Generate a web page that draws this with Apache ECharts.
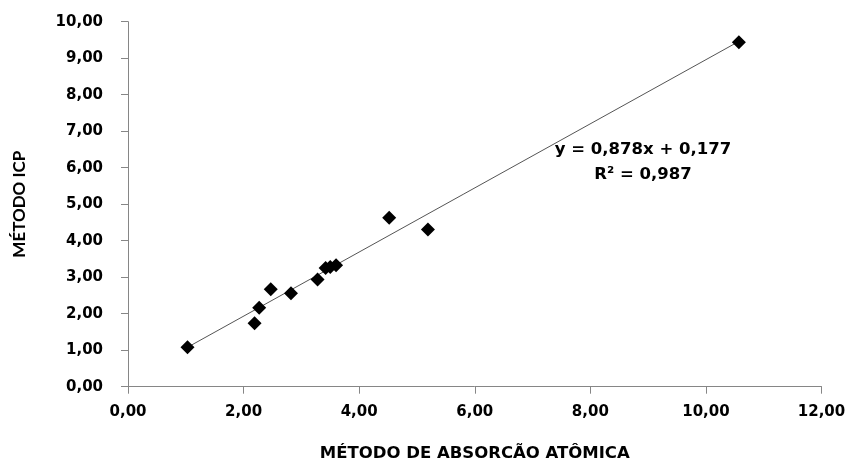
<!DOCTYPE html>
<html><head><meta charset="utf-8">
<script src="https://cdn.jsdelivr.net/npm/echarts@6/dist/echarts.min.js"></script>
<style>html,body{margin:0;padding:0;background:#fff}#c{width:851px;height:469px}</style>
</head><body><div id="c"></div>
<script>
const xValues = [1.03, 2.19, 2.27, 2.47, 2.82, 3.28, 3.42, 3.50, 3.60, 4.52, 5.19, 10.57];
const yValues = [1.08, 1.74, 2.16, 2.67, 2.56, 2.94, 3.25, 3.28, 3.33, 4.63, 4.31, 9.44];
const trendX = [1.03, 10.57];
const trendY = [1.08, 9.46];
const equationText = 'y = 0,878x + 0,177';
const r2Text = 'R² = 0,987';
const xTitle = 'MÉTODO DE ABSORCÃO ATÔMICA';
const yTitle = 'MÉTODO ICP';

const wideFont = '"DejaVu Sans", sans-serif';
const narrowFont = 'Lato, "Open Sans", sans-serif';
const fmt = v => v.toFixed(2).replace('.', ',');
const axisGray = '#868686';

const chart = echarts.init(document.getElementById('c'));
chart.setOption({
  animation: false,
  backgroundColor: '#fff',
  grid: { left: 128, right: 29.5, top: 21.7, bottom: 82.3, containLabel: false },
  xAxis: {
    type: 'value', min: 0, max: 12, interval: 2,
    name: xTitle, nameLocation: 'middle', nameGap: 59,
    nameTextStyle: { fontFamily: wideFont, fontWeight: 'bold', fontSize: 16.5, color: '#000' },
    axisLine: { show: true, lineStyle: { color: axisGray, width: 1 } },
    axisTick: { show: true, length: 7, lineStyle: { color: axisGray } },
    axisLabel: { formatter: fmt, margin: 18, fontFamily: wideFont, fontWeight: 'bold', fontSize: 15, color: '#000' },
    splitLine: { show: false }
  },
  yAxis: {
    type: 'value', min: 0, max: 10, interval: 1,
    name: yTitle, nameLocation: 'middle', nameGap: 100, nameRotate: 90,
    nameTextStyle: { fontFamily: narrowFont, fontWeight: 'bold', fontSize: 17, color: '#000' },
    axisLine: { show: true, lineStyle: { color: axisGray, width: 1 } },
    axisTick: { show: true, length: 7, lineStyle: { color: axisGray } },
    axisLabel: { formatter: fmt, margin: 25, fontFamily: wideFont, fontWeight: 'bold', fontSize: 15, color: '#000' },
    splitLine: { show: false }
  },
  series: [
    {
      type: 'line',
      data: trendX.map((x, i) => [x, trendY[i]]),
      symbol: 'none',
      lineStyle: { color: '#555', width: 1 },
      z: 1
    },
    {
      type: 'scatter',
      data: xValues.map((x, i) => [x, yValues[i]]),
      symbol: 'diamond',
      symbolSize: [14, 14],
      itemStyle: { color: '#000', opacity: 1 },
      z: 2
    }
  ],
  graphic: [
    { type: 'text', x: 643, y: 150, style: { text: equationText, font: 'bold 16.5px ' + wideFont, fill: '#000', textAlign: 'center', textVerticalAlign: 'middle' } },
    { type: 'text', x: 643, y: 175, style: { text: r2Text, font: 'bold 16.5px ' + wideFont, fill: '#000', textAlign: 'center', textVerticalAlign: 'middle' } }
  ]
});
</script>
</body></html>
